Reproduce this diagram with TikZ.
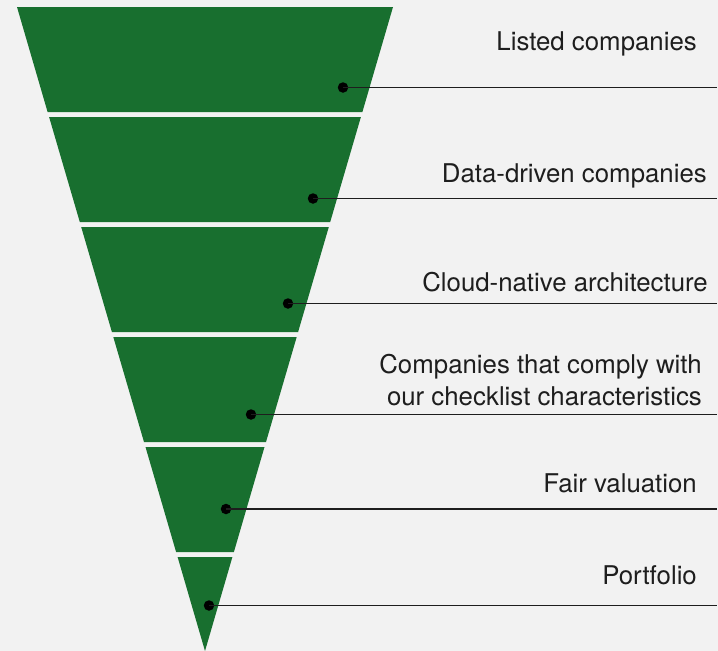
\documentclass[tikz,border=0pt]{standalone}
\usepackage{fontspec}
\setmainfont{TeX Gyre Heros}
\usepackage{tikz}

\definecolor{funnelgreen}{HTML}{186F2F}
\definecolor{paper}{HTML}{F2F2F2}
\definecolor{ink}{HTML}{1E1E1E}

\tikzset{
    stage/.style={fill=funnelgreen, draw=none},
    dot/.style={circle, fill=black, inner sep=0pt, minimum size=10.5pt},
    leader/.style={draw=ink, line width=1.2pt},
    label/.style={anchor=base east, inner sep=0pt, text=ink, align=right,
        font=\fontsize{25.8}{32}\selectfont}
}

\begin{document}
\begin{tikzpicture}[x=1pt, y=-1pt]
            % page
            \fill[paper] (0,0) rectangle (718,651);
            \useasboundingbox (0,0) rectangle (718,651);

            % funnel
            \fill[stage] (17,7) -- (393,7) -- (362.4,112) -- (47.6,112) -- cycle;
            \fill[stage] (49.1,117) -- (360.9,117) -- (330.2,222) -- (79.8,222) -- cycle;
            \fill[stage] (81.2,227) -- (328.8,227) -- (298.1,332) -- (111.9,332) -- cycle;
            \fill[stage] (113.3,337) -- (296.7,337) -- (266.0,442) -- (144.0,442) -- cycle;
            \fill[stage] (145.5,447) -- (264.5,447) -- (233.9,552) -- (176.1,552) -- cycle;
            \fill[stage] (177.6,557) -- (232.4,557) -- (205,651) -- cycle;

            % markers
            \node[dot] (listed) at (343,87.5) {};
            \node[dot] (data) at (313,198.5) {};
            \node[dot] (cloud) at (288,303.5) {};
            \node[dot] (check) at (251,414.5) {};
            \node[dot] (fair) at (226,509) {};
            \node[dot] (port) at (209,605.5) {};

            \coordinate (listed-end) at (717,87.5);
            \coordinate (data-end) at (717,198.5);
            \coordinate (cloud-end) at (717,303.5);
            \coordinate (check-end) at (717,414.5);
            \coordinate (fair-end) at (717,509);
            \coordinate (port-end) at (717,605.5);

            % leaders
            \draw[leader] (listed.center) -- (listed-end);
            \draw[leader] (data.center) -- (data-end);
            \draw[leader] (cloud.center) -- (cloud-end);
            \draw[leader] (check.center) -- (check-end);
            \draw[leader] (fair.center) -- (fair-end);
            \draw[leader] (port.center) -- (port-end);

            % labels (base of a two-line label is its last line)
            \node[label] (listed-text) at (697,50) {Listed companies};
            \node[label] (data-text) at (707,182) {Data-driven companies};
            \node[label] (cloud-text) at (708,291) {Cloud-native architecture};
            \node[label] (check-text) at (702,405) {Companies that comply with\\our checklist characteristics};
            \node[label] (fair-text) at (697,492) {Fair valuation};
            \node[label] (port-text) at (697,584) {Portfolio};
        \end{tikzpicture}
\end{document}
